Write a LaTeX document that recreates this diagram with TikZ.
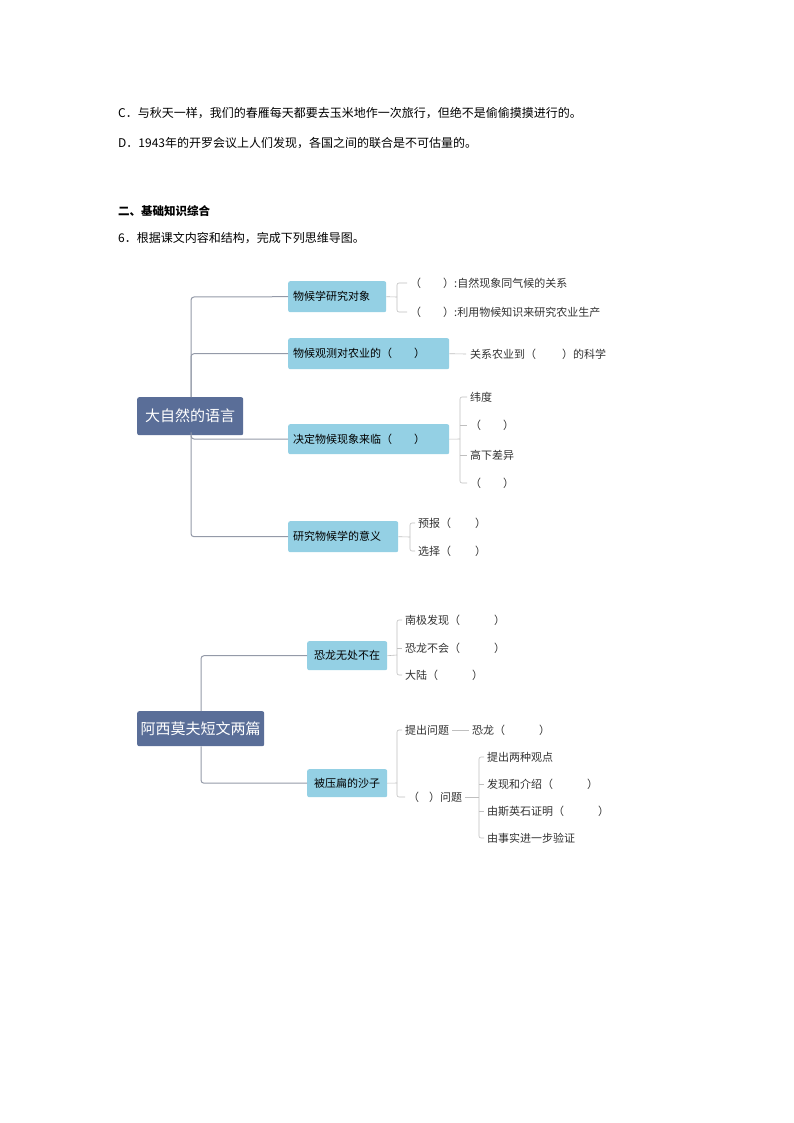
\documentclass[tikz,border=0pt]{standalone}
\usepackage{fontspec}
\setmainfont{Noto Sans CJK SC}
\begin{document}
\begin{tikzpicture}[x=1pt,y=-1pt,
  conn/.style={draw=connc,line width=1pt,rounded corners=3pt},
  br/.style={draw=gray!50,line width=0.6pt,rounded corners=2pt},
  root/.style={fill=rootc,draw=none,rounded corners=2pt,text=white,font=\fontsize{15}{17}\selectfont,anchor=north west,inner sep=0pt,align=center},
  sub/.style={fill=subc,draw=none,rounded corners=2pt,font=\fontsize{11}{13}\selectfont,anchor=north west,inner xsep=5pt,inner ysep=0pt,align=left},
  leaf/.style={anchor=west,inner sep=0pt,font=\fontsize{11}{13}\selectfont,text=black!80},
  body/.style={anchor=west,inner sep=0pt,font=\fontsize{12}{14}\selectfont}]
\definecolor{rootc}{HTML}{5A6E98}
\definecolor{subc}{HTML}{94D0E4}
\definecolor{connc}{HTML}{949AA8}
\useasboundingbox (0,0) rectangle (794,1123);
\fill[white] (0,0) rectangle (794,1123);
\newcommand{\bl}[1]{\hspace*{#1pt}}
% header text
\node[body] (t1) at (118,113) {C．与秋天一样，我们的春雁每天都要去玉米地作一次旅行，但绝不是偷偷摸摸进行的。};
\node[body] (t2) at (118,143) {D．1943年的开罗会议上人们发现，各国之间的联合是不可估量的。};
\node[body,font=\fontsize{11.5}{13}\selectfont\bfseries] (t3) at (118,211) {二、基础知识综合};
\node[body] (t4) at (118,238) {6．根据课文内容和结构，完成下列思维导图。};
% ===== map 1
\node[root,minimum width=106pt,minimum height=38pt] (r1) at (137,397) {大自然的语言};
\node[sub,text width=88pt,minimum height=31pt] (b1) at (288,281) {物候学研究对象};
\node[sub,text width=151pt,minimum height=31pt] (b2) at (288,338) {物候观测对农业的（\bl{22}）};
\node[sub,text width=151pt,minimum height=30pt] (b3) at (288,424) {决定物候现象来临（\bl{22}）};
\node[sub,text width=100pt,minimum height=31pt] (b4) at (288,521) {研究物候学的意义};
\coordinate (s1) at (191,297);
\draw[conn] (r1.north -| s1) -- (s1) -- (b1.west);
\draw[conn] (r1.north -| s1) |- (b2.west);
\draw[conn] ([yshift=3]r1.south -| s1) -- (191,439) -- (b3.west);
\draw[conn] (r1.south -| s1) |- (b4.west);
% b1 leaves
\node[leaf] (l11) at (410,283) {（\bl{22}）:自然现象同气候的关系};
\node[leaf] (l12) at (410,312) {（\bl{22}）:利用物候知识来研究农业生产};
\draw[br] (b1.east) -- (397,297);
\draw[br] ([xshift=-3]l11.west) -- (397,283) -- (397,312) -- ([xshift=-3]l12.west);
% b2 leaf
\node[leaf] (l21) at (470,354) {关系农业到（\bl{26}）的科学};
\draw[br] (b2.east) -- ([xshift=-4]l21.west);
% b3 leaves
\node[leaf] (l31) at (470,397) {纬度};
\node[leaf] (l32) at (470,425) {（\bl{22}）};
\node[leaf] (l33) at (470,455) {高下差异};
\node[leaf] (l34) at (470,483) {（\bl{22}）};
\draw[br] (b3.east) -- (460,439);
\draw[br] ([xshift=-3]l31.west) -- (460,397) -- (460,483) -- ([xshift=-3]l34.west);
\draw[br] (460,425) -- ([xshift=-3]l32.west);
\draw[br] (460,455) -- ([xshift=-3]l33.west);
% b4 leaves
\node[leaf] (l41) at (418,523) {预报（\bl{24}）};
\node[leaf] (l42) at (418,551) {选择（\bl{24}）};
\draw[br] (b4.east) -- (410,537);
\draw[br] ([xshift=-3]l41.west) -- (410,523) -- (410,551) -- ([xshift=-3]l42.west);
% ===== map 2
\node[root,minimum width=127pt,minimum height=35pt] (r2) at (137,711) {阿西莫夫短文两篇};
\node[sub,minimum width=80pt,minimum height=29pt,align=center,inner xsep=0pt] (ba) at (307,641) {恐龙无处不在};
\node[sub,minimum width=80pt,minimum height=28pt,align=center,inner xsep=0pt] (bb) at (307,769) {被压扁的沙子};
\draw[conn] (r2.north -| 201,0) |- (ba.west);
\draw[conn] (r2.south -| 201,0) |- (bb.west);
\node[leaf] (la1) at (405,620) {南极发现（\bl{34}）};
\node[leaf] (la2) at (405,648) {恐龙不会（\bl{34}）};
\node[leaf] (la3) at (405,675) {大陆（\bl{34}）};
\draw[br] (ba.east) -- (397,655);
\draw[br] ([xshift=-3]la1.west) -- (397,620) -- (397,675) -- ([xshift=-3]la3.west);
\draw[br] (397,648) -- ([xshift=-3]la2.west);
\node[leaf] (lb1) at (405,730) {提出问题};
\node[leaf] (lb1b) at (472,730) {恐龙（\bl{34}）};
\draw[br] (lb1.east) ++(3,0) -- ([xshift=-3]lb1b.west);
\node[leaf] (lb2) at (408,797) {（\bl{10}）问题};
\draw[br] (bb.east) -- (397,783);
\draw[br] ([xshift=-3]lb1.west) -- (397,730) -- (397,797) -- ([xshift=-3]lb2.west);
\node[leaf] (lc1) at (487,757) {提出两种观点};
\node[leaf] (lc2) at (487,784) {发现和介绍（\bl{34}）};
\node[leaf] (lc3) at (487,811) {由斯英石证明（\bl{34}）};
\node[leaf] (lc4) at (487,838) {由事实进一步验证};
\draw[br] (lb2.east) ++(3,0) -- (479,797);
\draw[br] ([xshift=-3]lc1.west) -- (479,757) -- (479,838) -- ([xshift=-3]lc4.west);
\draw[br] (479,784) -- ([xshift=-3]lc2.west);
\draw[br] (479,811) -- ([xshift=-3]lc3.west);
\end{tikzpicture}
\end{document}
